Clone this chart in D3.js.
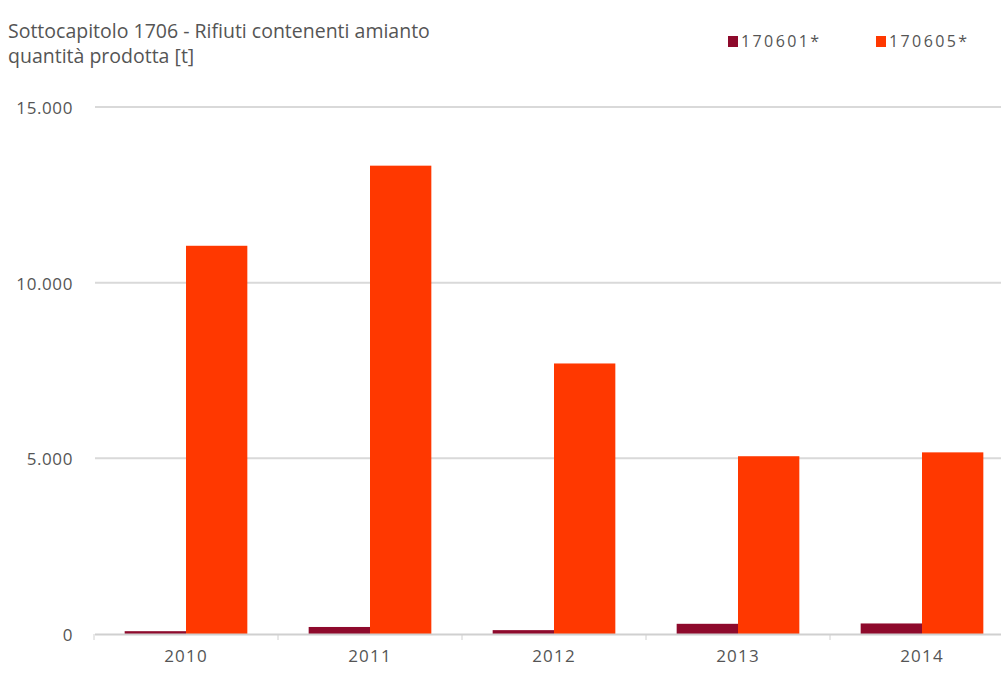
<!DOCTYPE html>
<html><head><meta charset="utf-8">
<script src="https://cdn.jsdelivr.net/npm/d3@7"></script>
<style>body{margin:0;background:#fff;} text{font-family:"Open Sans","Noto Sans",sans-serif;}</style>
</head><body>
<svg id="c" width="1001" height="675"></svg>
<script>
const years = ["2010","2011","2012","2013","2014"];
const seriesNames = ["170601*","170605*"];
const s170601 = [80, 200, 110, 290, 300];
const s170605 = [11050, 13330, 7700, 5060, 5170];
const yTicks = [0, 5000, 10000, 15000];
const colors = ["#8e0a2c", "#ff3800"];

const svg = d3.select("#c");
const x = d3.scaleBand().domain(years).range([94, 1014]).paddingInner(1/3).paddingOuter(1/6);
const x0 = d3.scaleBand().domain(years).range([94, 1014]);
const xs = d3.scaleBand().domain(seriesNames).range([0, x.bandwidth()]);
const y = d3.scaleLinear().domain([0, 15000]).range([634, 107]);
const fmt = v => d3.format(",")(v).replace(/,/g, ".");

// y axis labels
const yAxis = d3.axisLeft(y).tickValues(yTicks).tickSize(0).tickFormat(fmt);
svg.append("g").attr("transform","translate(73,0)").call(yAxis)
  .call(g => g.select(".domain").remove())
  .call(g => g.selectAll("text").attr("fill","#555").attr("font-size",17)
    .attr("letter-spacing",0.6).attr("x",0).attr("dy","0.38em"));
// gridlines
svg.append("g").selectAll("line").data(yTicks.filter(d=>d>0)).join("line")
  .attr("x1",95).attr("x2",1001).attr("y1",d=>y(d)).attr("y2",d=>y(d))
  .attr("stroke","#d9d9d9").attr("stroke-width",2);

// bars
const data = years.map((yr,i)=>({year:yr, vals:[s170601[i], s170605[i]]}));
const grp = svg.append("g").selectAll("g").data(data).join("g")
  .attr("transform", d=>`translate(${x(d.year)},0)`);
grp.selectAll("rect").data(d=>d.vals.map((v,j)=>({name:seriesNames[j], v, j}))).join("rect")
  .attr("x", d=>xs(d.name)).attr("width", xs.bandwidth())
  .attr("y", d=>y(d.v)).attr("height", d=>y(0)-y(d.v))
  .attr("fill", d=>colors[d.j]);

// x axis
svg.append("line").attr("x1",95).attr("x2",1001).attr("y1",y(0)+0.5).attr("y2",y(0)+0.5)
  .attr("stroke","#d0d0d0").attr("stroke-width",2);
const xAxis = d3.axisBottom(x0).tickSize(0).tickPadding(0);
svg.append("g").attr("transform",`translate(0,${y(0)})`).call(xAxis)
  .call(g => g.select(".domain").remove())
  .call(g => g.selectAll("text").attr("fill","#555").attr("font-size",17)
    .attr("letter-spacing",1.2).attr("dy","1.65em"));
svg.append("g").selectAll("line").data(years).join("line")
  .attr("x1",d=>x0(d)).attr("x2",d=>x0(d)).attr("y1",y(0)).attr("y2",y(0)+6)
  .attr("stroke","#d0d0d0").attr("stroke-width",1);

// title
svg.append("text").attr("x",8).attr("y",38).attr("fill","#555").attr("font-size",19.5)
  .text("Sottocapitolo 1706 - Rifiuti contenenti amianto");
svg.append("text").attr("x",8).attr("y",63).attr("fill","#555").attr("font-size",19.5)
  .text("quantità prodotta [t]");

// legend
const legX = [728, 876];
const leg = svg.append("g").selectAll("g").data(seriesNames).join("g")
  .attr("transform",(d,i)=>`translate(${legX[i]},41)`);
leg.append("rect").attr("x",0).attr("y",-5).attr("width",10).attr("height",11).attr("fill",(d,i)=>colors[i]);
leg.append("text").attr("x",13).attr("y",6).attr("fill","#555").attr("font-size",16)
  .attr("letter-spacing",2.4).text(d=>d);
</script>
</body></html>
